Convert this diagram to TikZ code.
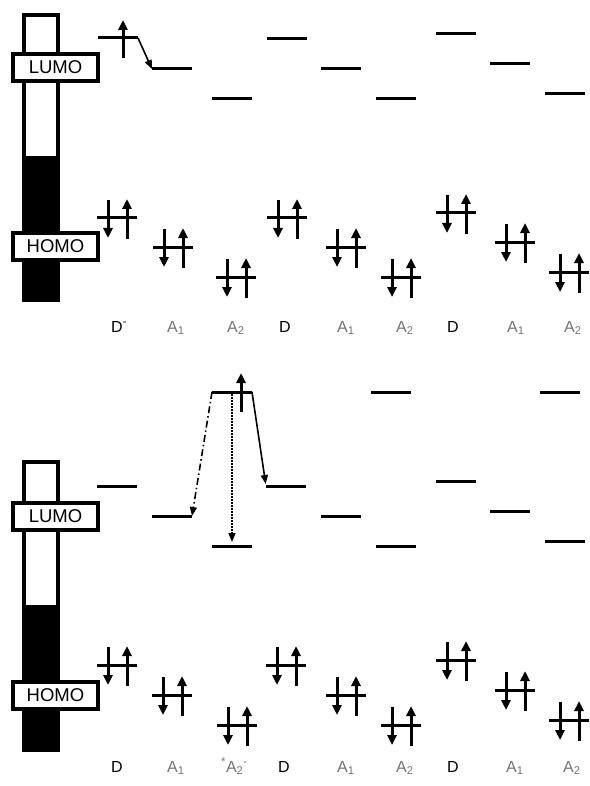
\documentclass[tikz,border=0pt]{standalone}
\usepackage{fontspec}
\setmainfont{Liberation Sans}
\usetikzlibrary{arrows.meta}
\definecolor{lblgray}{RGB}{115,115,115}
\tikzset{
  lvl/.style={line width=3pt},
  spin/.style={line width=3pt,-{Triangle[width=9pt,length=10pt]}},
  conn/.style={line width=1.6pt,-{Triangle[width=7pt,length=9pt]}},
  boxlbl/.style={draw,line width=4pt,fill=white,minimum width=85pt,minimum height=27pt,inner sep=0pt,font=\fontsize{18.5}{20}\selectfont},
  dlbl/.style={anchor=base west,inner sep=0pt,font=\fontsize{16}{18}\selectfont},
  albl/.style={dlbl,text=lblgray},
  barframe/.style={line width=4pt},
}
\newcommand\lev[3]{%
  \coordinate (#1l) at (#2,#3);
  \coordinate (#1r) at (#2+40,#3);
  \draw[lvl] (#1l) -- (#1r);}
\newcommand\pairlev[3]{%
  \lev{#1}{#2}{#3}
  \draw[spin] (#2+11,#3-18) -- (#2+11,#3+20);
  \draw[spin] (#2+30,#3+21) -- (#2+30,#3-19);}
\begin{document}
\begin{tikzpicture}[x=1pt,y=-1pt]
\useasboundingbox (0,0) rectangle (589,786);
% ---------- top panel ----------
\fill (22,156) rectangle (60,302);
\draw[barframe] (24,15) rectangle (58,300);
\node[boxlbl] (lumoA) at (55.5,67.5) {LUMO};
\node[boxlbl] (homoA) at (55.5,246.5) {HOMO};
% LUMO levels
\lev{tLa}{98}{38}
\lev{tLb}{152}{69}
\lev{tLc}{212}{99}
\lev{tLd}{267}{39}
\lev{tLe}{321}{69}
\lev{tLf}{376}{99}
\lev{tLg}{436}{34}
\lev{tLh}{490}{64}
\lev{tLi}{545}{94}
\draw[spin] (123,58) -- (123,20);
\draw[conn] (tLar) -- (tLbl);
% HOMO levels
\pairlev{tHa}{97}{218}
\pairlev{tHb}{153}{247}
\pairlev{tHc}{216}{277}
\pairlev{tHd}{267}{218}
\pairlev{tHe}{326}{247}
\pairlev{tHf}{381}{277}
\pairlev{tHg}{436}{213}
\pairlev{tHh}{495}{242}
\pairlev{tHi}{549}{272}
% labels
\node[dlbl] (ta) at (111,332) {D\textsuperscript{-}};
\node[albl] (tb) at (167,332) {A\textsubscript{1}};
\node[albl] (tc) at (227,332) {A\textsubscript{2}};
\node[dlbl] (td) at (279,332) {D};
\node[albl] (te) at (337,332) {A\textsubscript{1}};
\node[albl] (tf) at (396,332) {A\textsubscript{2}};
\node[dlbl] (tg) at (447,332) {D};
\node[albl] (th) at (507,332) {A\textsubscript{1}};
\node[albl] (ti) at (564,332) {A\textsubscript{2}};
% ---------- bottom panel ----------
\fill (22,605) rectangle (60,752);
\draw[barframe] (24,462) rectangle (58,750);
\node[boxlbl] (lumoB) at (55.5,516) {LUMO};
\node[boxlbl] (homoB) at (55.5,695) {HOMO};
% LUMO levels
\lev{bLa}{97}{486}
\lev{bLb}{152}{516}
\lev{bLx}{212}{392}
\lev{bLc}{212}{546}
\lev{bLd}{266}{486}
\lev{bLe}{321}{516}
\lev{bLy}{371}{392}
\lev{bLf}{376}{546}
\lev{bLg}{436}{481}
\lev{bLh}{490}{511}
\lev{bLz}{540}{392}
\lev{bLi}{545}{541}
\draw[spin] (241,412) -- (241,373);
\coordinate (bxm) at (232,394);
\coordinate (bcm) at (232,546);
\draw[conn,dash pattern=on 7pt off 3pt on 1.5pt off 3pt] (bLxl) -- (bLbr);
\draw[conn,dash pattern=on 1.5pt off 1.5pt,shorten >=4pt] (bxm) -- (bcm);
\draw[conn,shorten >=2pt] (bLxr) -- (bLdl);
% HOMO levels
\pairlev{bHa}{97}{665}
\pairlev{bHb}{152}{695}
\pairlev{bHc}{217}{725}
\pairlev{bHd}{266}{665}
\pairlev{bHe}{326}{695}
\pairlev{bHf}{381}{725}
\pairlev{bHg}{436}{660}
\pairlev{bHh}{495}{690}
\pairlev{bHi}{549}{720}
% labels
\node[dlbl] (ba) at (111,772) {D};
\node[albl] (bb) at (167,772) {A\textsubscript{1}};
\node[albl] (bc) at (221,772) {\textsuperscript{*}A\textsubscript{2}\textsuperscript{-}};
\node[dlbl] (bd) at (278,772) {D};
\node[albl] (be) at (337,772) {A\textsubscript{1}};
\node[albl] (bf) at (396,772) {A\textsubscript{2}};
\node[dlbl] (bg) at (447,772) {D};
\node[albl] (bh) at (506,772) {A\textsubscript{1}};
\node[albl] (bi) at (563,772) {A\textsubscript{2}};
\end{tikzpicture}
\end{document}
